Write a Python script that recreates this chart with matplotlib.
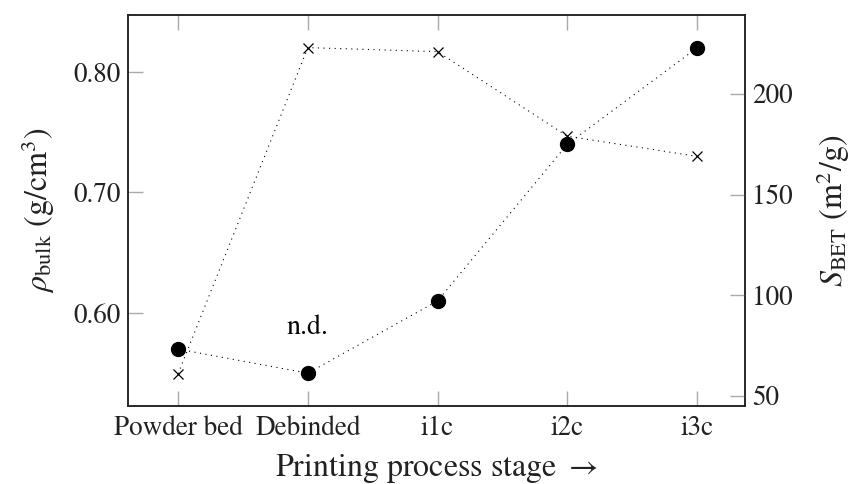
import matplotlib
matplotlib.use("Agg")
import matplotlib.pyplot as plt

plt.rcParams['font.family'] = ['STIXGeneral', 'Liberation Serif', 'DejaVu Serif']
plt.rcParams['mathtext.fontset'] = 'stix'

stages = ['Powder bed', 'Debinded', 'i1c', 'i2c', 'i3c']
rho_bulk = [0.57, 0.55, 0.61, 0.74, 0.82]     # g/cm^3, left axis
s_bet = [61, 223, 221, 179, 169]              # m^2/g, right axis
rho_ticks = [0.60, 0.70, 0.80]
bet_ticks = [50, 100, 150, 200]

fig = plt.figure(figsize=(8.54, 4.84), dpi=100)
ax = fig.add_axes([0.1493, 0.1612, 0.7231, 0.8078])
ax2 = ax.twinx()

x = list(range(len(stages)))
dots = (0, (1, 4))

ax.plot(x, rho_bulk, linestyle=dots, color='black', linewidth=0.8,
        marker='o', markersize=10, markerfacecolor='black',
        markeredgecolor='black', zorder=3)
ax2.plot(x, s_bet, linestyle=dots, color='black', linewidth=0.8,
         marker='x', markersize=7, markeredgewidth=0.9)

ax.text(1, 0.588, 'n.d.', ha='center', va='center', fontsize=20)

ax.set_xlim(-0.39, 4.37)
ax.set_ylim(0.5228, 0.8473)
ax2.set_ylim(45.0, 239.2)

ax.set_xticks(x)
ax.set_xticklabels(stages)
ax.set_yticks(rho_ticks)
ax.set_yticklabels(['%.2f' % v for v in rho_ticks])
ax2.set_yticks(bet_ticks)

tick_kw = dict(direction='in', length=11, width=1.0, color='#aaaaaa',
               labelcolor='#222222', labelsize=19.5)
ax.tick_params(axis='x', top=True, bottom=True, pad=7, **tick_kw)
ax.tick_params(axis='y', left=True, right=False, pad=5, **tick_kw)
ax2.tick_params(axis='y', right=True, left=False, pad=5, **tick_kw)

for a in (ax, ax2):
    for sp in a.spines.values():
        sp.set_linewidth(1.1)
        sp.set_color('#222222')

ax.set_xlabel('Printing process stage $\\rightarrow$', fontsize=23, labelpad=8,
              color='#222222')
ax.set_ylabel('$\\rho_{\\mathrm{bulk}}$ (g/cm$^3$)', fontsize=23, labelpad=12,
              color='#222222')
ax2.set_ylabel('$S_{\\mathrm{BET}}$ (m$^2$/g)', fontsize=23, labelpad=16,
               color='#222222')

fig.savefig('out.png', dpi=100)
